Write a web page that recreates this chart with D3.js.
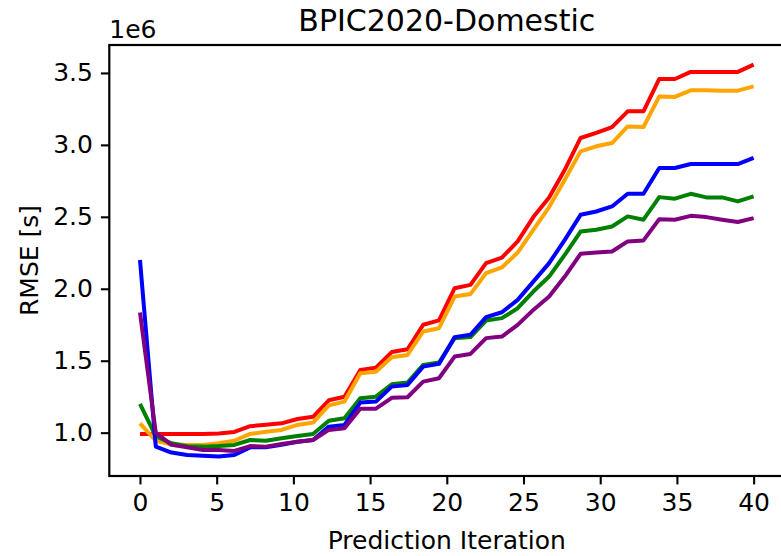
<!DOCTYPE html>
<html>
<head>
<meta charset="utf-8">
<script src="https://cdn.jsdelivr.net/npm/d3@7"></script>
<style>
  html, body { margin: 0; padding: 0; background: #fff; }
  svg { display: block; font-family: "DejaVu Sans", sans-serif; }
</style>
</head>
<body>
<div class="line-chart-container"></div>
<script>
// x: 40 prediction iterations, 0 .. 40
const iterations = [0, 1.03, 2.05, 3.08, 4.10, 5.13, 6.15, 7.18, 8.21, 9.23,
  10.26, 11.28, 12.31, 13.33, 14.36, 15.38, 16.41, 17.44, 18.46, 19.49,
  20.51, 21.54, 22.56, 23.59, 24.62, 25.64, 26.67, 27.69, 28.72, 29.74,
  30.77, 31.79, 32.82, 33.85, 34.87, 35.90, 36.92, 37.95, 38.97, 40];

// RMSE in units of 1e6 s
const redRmse = [0.99, 0.99, 0.99, 0.99, 0.99, 0.995, 1.005, 1.045, 1.055, 1.065,
  1.095, 1.11, 1.225, 1.25, 1.436, 1.452, 1.56, 1.58, 1.75, 1.78,
  2.004, 2.027, 2.178, 2.217, 2.329, 2.498, 2.635, 2.827, 3.048, 3.083,
  3.124, 3.233, 3.233, 3.458, 3.458, 3.507, 3.507, 3.507, 3.507, 3.558];
const orangeRmse = [1.065, 0.944, 0.919, 0.915, 0.915, 0.926, 0.944, 0.991, 1.007, 1.019,
  1.054, 1.07, 1.19, 1.216, 1.413, 1.424, 1.524, 1.54, 1.703, 1.726,
  1.946, 1.963, 2.109, 2.148, 2.252, 2.41, 2.568, 2.758, 2.955, 2.99,
  3.013, 3.128, 3.124, 3.337, 3.333, 3.379, 3.379, 3.377, 3.377, 3.407];
const greenRmse = [1.2, 0.975, 0.926, 0.905, 0.903, 0.907, 0.915, 0.949, 0.944, 0.961,
  0.977, 0.991, 1.083, 1.1, 1.239, 1.25, 1.336, 1.348, 1.471, 1.487,
  1.657, 1.664, 1.779, 1.796, 1.865, 1.981, 2.085, 2.236, 2.398, 2.41,
  2.433, 2.503, 2.48, 2.637, 2.626, 2.66, 2.635, 2.635, 2.607, 2.642];
const blueRmse = [2.2, 0.903, 0.862, 0.845, 0.84, 0.835, 0.845, 0.898, 0.898, 0.915,
  0.937, 0.949, 1.042, 1.054, 1.209, 1.216, 1.32, 1.332, 1.459, 1.478,
  1.664, 1.68, 1.803, 1.837, 1.923, 2.05, 2.178, 2.34, 2.514, 2.537,
  2.572, 2.66, 2.66, 2.839, 2.839, 2.867, 2.867, 2.867, 2.867, 2.909];
const purpleRmse = [1.835, 1.0, 0.915, 0.898, 0.88, 0.88, 0.873, 0.907, 0.903, 0.921,
  0.937, 0.949, 1.019, 1.03, 1.167, 1.167, 1.242, 1.246, 1.355, 1.378,
  1.529, 1.547, 1.657, 1.668, 1.749, 1.853, 1.946, 2.085, 2.243, 2.252,
  2.259, 2.329, 2.336, 2.484, 2.48, 2.507, 2.498, 2.48, 2.464, 2.491];

const xTicks = [0, 5, 10, 15, 20, 25, 30, 35, 40];
const yTicks = [1.0, 1.5, 2.0, 2.5, 3.0, 3.5];

// plot order = draw order (last one on top)
const seriesList = [
  {name: 'red', color: 'red', values: redRmse},
  {name: 'orange', color: 'orange', values: orangeRmse},
  {name: 'green', color: 'green', values: greenRmse},
  {name: 'blue', color: 'blue', values: blueRmse},
  {name: 'purple', color: 'purple', values: purpleRmse}
];

function setupCanvas(seriesList) {
  const svg_width = 781;
  const svg_height = 556;
  // axes box (right side runs past the picture edge, like the original)
  const ax = {left: 109.3, right: 784.3, top: 45, bottom: 476};
  const fontSize = 25;

  const svg = d3.select('.line-chart-container').append('svg')
    .attr('width', svg_width).attr('height', svg_height);

  // matplotlib-like 5% margins
  const xScale = d3.scaleLinear().domain([-2, 42]).range([ax.left, ax.right]);
  const allValues = seriesList.flatMap(s => s.values);
  const yMin = d3.min(allValues), yMax = d3.max(allValues);
  const pad = (yMax - yMin) * 0.05;
  const yScale = d3.scaleLinear().domain([yMin - pad, yMax + pad]).range([ax.bottom, ax.top]);

  svg.append('clipPath').attr('id', 'plot-clip')
    .append('rect')
    .attr('x', ax.left).attr('y', ax.top)
    .attr('width', ax.right - ax.left).attr('height', ax.bottom - ax.top);

  // lines
  const line = d3.line()
    .x((d, i) => xScale(iterations[i]))
    .y(d => yScale(d));

  svg.append('g').attr('clip-path', 'url(#plot-clip)')
    .selectAll('.series')
    .data(seriesList)
    .enter()
    .append('path')
    .attr('class', 'series')
    .attr('d', d => line(d.values))
    .attr('fill', 'none')
    .attr('stroke', d => d.color)
    .attr('stroke-width', 4)
    .attr('stroke-linejoin', 'round')
    .attr('stroke-linecap', 'butt');

  // axes
  const xAxis = d3.axisBottom(xScale).tickValues(xTicks)
    .tickSizeInner(8.4).tickSizeOuter(0).tickPadding(8.4)
    .tickFormat(d3.format('d'));
  const xAxisDraw = svg.append('g').attr('class', 'x axis')
    .attr('transform', `translate(0,${ax.bottom})`)
    .call(xAxis);

  const yAxis = d3.axisLeft(yScale).tickValues(yTicks)
    .tickSizeInner(8.4).tickSizeOuter(0).tickPadding(8)
    .tickFormat(d3.format('.1f'));
  const yAxisDraw = svg.append('g').attr('class', 'y axis')
    .attr('transform', `translate(${ax.left},0)`)
    .call(yAxis);

  [xAxisDraw, yAxisDraw].forEach(g => {
    g.select('.domain').remove();
    g.selectAll('.tick line').attr('stroke', '#000').attr('stroke-width', 2.1);
    g.selectAll('.tick text').attr('fill', '#000')
      .style('font-size', fontSize + 'px')
      .style('font-family', '"DejaVu Sans", sans-serif');
  });
  xAxisDraw.selectAll('.tick text').attr('dy', '0.72em');

  // spines
  svg.append('rect')
    .attr('x', ax.left).attr('y', ax.top)
    .attr('width', ax.right - ax.left).attr('height', ax.bottom - ax.top)
    .attr('fill', 'none').attr('stroke', '#000').attr('stroke-width', 2.2);

  // title, labels, offset text
  svg.append('text')
    .attr('x', (ax.left + ax.right) / 2).attr('y', 31)
    .attr('text-anchor', 'middle')
    .style('font-size', '30px')
    .text('BPIC2020-Domestic');

  svg.append('text')
    .attr('x', ax.left).attr('y', 38)
    .style('font-size', fontSize + 'px')
    .text('1e6');

  svg.append('text')
    .attr('x', (ax.left + ax.right) / 2).attr('y', 549)
    .attr('text-anchor', 'middle')
    .style('font-size', fontSize + 'px')
    .text('Prediction Iteration');

  svg.append('text')
    .attr('transform', `translate(38,${(ax.top + ax.bottom) / 2}) rotate(-90)`)
    .attr('text-anchor', 'middle')
    .style('font-size', fontSize + 'px')
    .text('RMSE [s]');
}

setupCanvas(seriesList);
</script>
</body>
</html>
